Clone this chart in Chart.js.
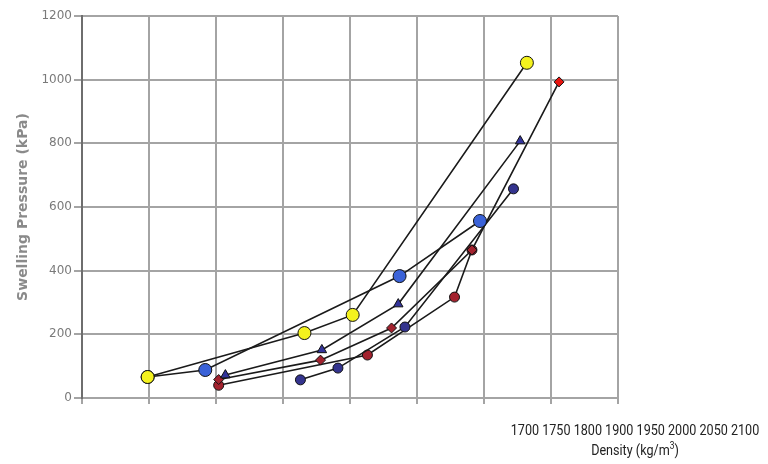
<!DOCTYPE html>
<html>
<head>
<meta charset="utf-8">
<script src="https://cdn.jsdelivr.net/npm/chart.js@4"></script>
<style>
  body { margin: 0; background: #fff; }
  #wrap { position: relative; width: 768px; height: 464px; overflow: hidden; }
  #xnote {
    position: absolute; left: 435px; top: 420px; width: 400px;
    text-align: center; font: 15px Roboto, sans-serif; white-space: nowrap;
    line-height: 20px; color: #222;
    transform: scaleX(0.84); transform-origin: 200px 0;
  }
  #xnote sup { font-size: 10px; line-height: 0; }
</style>
</head>
<body>
<div id="wrap">
  <canvas id="MyChart" width="768" height="464"></canvas>
  <div id="xnote">1700 1750 1800 1900 1950 2000 2050 2100<br>Density (kg/m<sup>3</sup>)</div>
</div>
<script>
// density (kg/m3) and swelling pressure (kPa)
const yellowX = [1749, 1866, 1902, 2032];
const yellowY = [66, 204, 261, 1053];
const blueX = [1749, 1792, 1937, 1997];
const blueY = [66, 88, 383, 556];
const navyTriX = [1807, 1879, 1936, 2027];
const navyTriY = [72, 151, 295, 807];
const navyX = [1863, 1891, 1941, 2022];
const navyY = [57, 94, 223, 657];
const redX = [1802, 1878, 1931, 1991, 2056];
const redY = [58, 119, 220, 465, 993];
const red2X = [1802, 1913, 1978, 1991];
const red2Y = [40, 135, 317, 465];
const yTicks = [0, 200, 400, 600, 800, 1000, 1200];

function pts(xs, ys) {
  let out = [];
  for (let i = 0; i < xs.length; i++) {
    out.push({x: xs[i], y: ys[i]});
  }
  return out;
}

function series(xs, ys, color, style, radius) {
  return {
    data: pts(xs, ys),
    borderColor: '#1a1a1a',
    borderWidth: 1.6,
    backgroundColor: color,
    pointBackgroundColor: color,
    pointBorderColor: '#111',
    pointBorderWidth: 1,
    pointStyle: style,
    pointRadius: radius,
    tension: 0
  };
}

let redSet = series(redX, redY, '#a3222e', 'rectRot', 5);
redSet.pointBackgroundColor = ['#a3222e', '#a3222e', '#a3222e', '#a3222e', '#e8140f'];

let data = {
  datasets: [
    series(yellowX, yellowY, '#f4f21e', 'circle', 6.5),
    series(blueX, blueY, '#3a62d8', 'circle', 6.5),
    series(navyTriX, navyTriY, '#33349a', 'triangle', 5.5),
    series(navyX, navyY, '#34348e', 'circle', 5),
    redSet,
    series(red2X, red2Y, '#a3222e', 'circle', 5)
  ]
};

let options = {
  responsive: false,
  animation: false,
  layout: { padding: { left: 0, right: 150, top: 16, bottom: 0 } },
  plugins: { legend: { display: false }, tooltip: { enabled: false } },
  scales: {
    x: {
      type: 'linear',
      min: 1700,
      max: 2100,
      ticks: { display: false, stepSize: 50 },
      grid: { color: '#a4a4a4', lineWidth: 2, tickLength: 6 },
      border: { color: '#a4a4a4', width: 2 },
      afterFit: function (scale) { scale.height = 66; }
    },
    y: {
      min: 0,
      max: 1200,
      afterBuildTicks: function (scale) {
        scale.ticks = yTicks.map(function (v) { return {value: v}; });
      },
      ticks: {
        color: '#7a7a7a',
        padding: 2,
        font: { family: 'DejaVu Sans', size: 12 },
        callback: function (v) { return String(v); }
      },
      grid: { color: '#a4a4a4', lineWidth: 2, tickLength: 8 },
      border: { color: '#6e6e6e', width: 2 },
      title: {
        display: true,
        text: 'Swelling Pressure (kPa)',
        color: '#8a8a8a',
        padding: { top: 15, bottom: 0 },
        font: { family: 'DejaVu Sans', size: 14, weight: 'bold' }
      },
      afterFit: function (scale) { scale.width = 82; }
    }
  }
};

let myChart = new Chart(document.getElementById('MyChart'), {
  type: 'line',
  data: data,
  options: options
});
</script>
</body>
</html>
